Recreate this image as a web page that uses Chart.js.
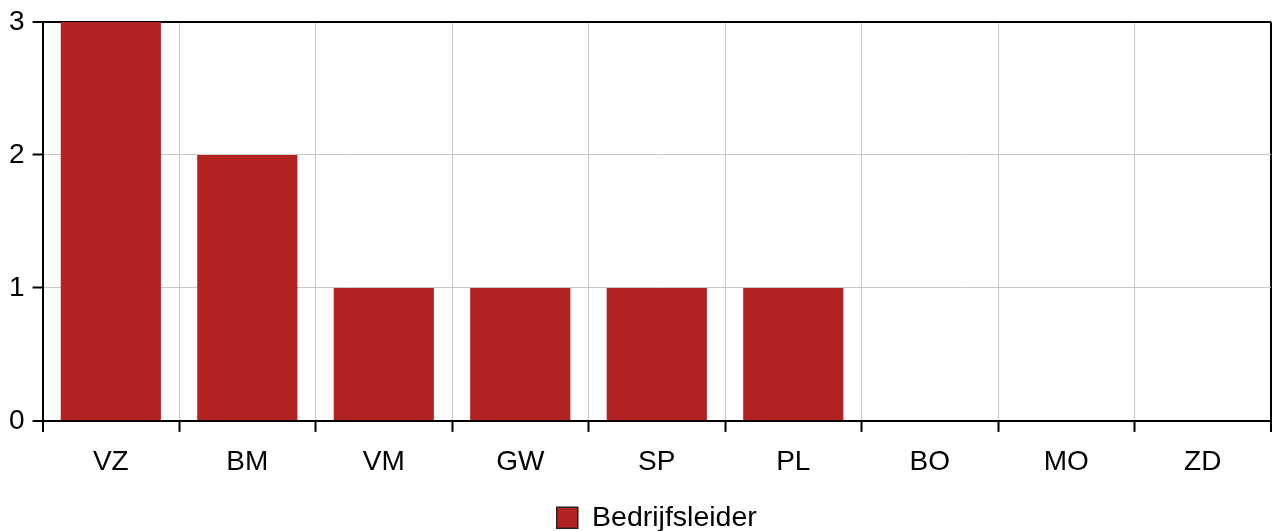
<!DOCTYPE html>
<html>
<head>
<meta charset="utf-8">
<script src="https://cdn.jsdelivr.net/npm/chart.js@4/dist/chart.umd.min.js"></script>
<style>
html,body{margin:0;padding:0;background:#fff;}
#wrap{width:1279px;height:531px;}
</style>
</head>
<body>
<div id="wrap"><canvas id="c" width="1279" height="531"></canvas></div>
<script>
const categories = ['VZ','BM','VM','GW','SP','PL','BO','MO','ZD'];
const seriesName = 'Bedrijfsleider';
const seriesValues = [3,2,1,1,1,1,0,0,0];
const yTicks = [0,1,2,3];

const BAR = '#b22222';
const FONT = {family:'"Liberation Sans", Arial, sans-serif', size:28};

new Chart(document.getElementById('c'), {
  type:'bar',
  data:{
    labels:categories,
    datasets:[{label:seriesName,data:seriesValues,backgroundColor:BAR,borderWidth:0,
      barPercentage:0.734,categoryPercentage:1}]
  },
  options:{
    responsive:false,
    animation:false,
    devicePixelRatio:1,
    layout:{padding:{left:1,right:8,top:17,bottom:-11}},
    plugins:{
      tooltip:{enabled:false},
      legend:{
        position:'bottom',
        fullSize:false,
        labels:{
          color:'#000',font:{...FONT, size:28.5, lineHeight:1},boxWidth:21,boxHeight:21,padding:2,
          generateLabels(chart){
            const items = Chart.defaults.plugins.legend.labels.generateLabels(chart);
            items.forEach(i=>{i.fillStyle=BAR;i.strokeStyle='#222';i.lineWidth=1.5;});
            return items;
          }
        }
      }
    },
    scales:{
      x:{
        afterFit(scale){scale.height += 8;},
        grid:{
          offset:true,
          color:ctx=> (ctx.type==='scale'||ctx.index===0)?'#000':'#c8c8c8',
          lineWidth:ctx=> (ctx.type==='scale'||ctx.index===0)?2:1,
          tickColor:'#000',tickWidth:2,tickLength:11,drawTicks:true
        },
        border:{color:'#000',width:2},
        ticks:{color:'#000',font:FONT,padding:14,maxRotation:0}
      },
      y:{
        min:0,max:3,
        afterBuildTicks(scale){scale.ticks = yTicks.map(v=>({value:v}));},
        grid:{
          color:ctx=> (ctx.tick && (ctx.tick.value===3||ctx.tick.value===0))?'#000':'#c8c8c8',
          lineWidth:ctx=> (ctx.tick && (ctx.tick.value===3||ctx.tick.value===0))?2:1,
          tickColor:'#000',tickWidth:2,tickLength:10
        },
        border:{color:'#000',width:2},
        ticks:{color:'#000',font:{...FONT, lineHeight:1},padding:8,stepSize:1}
      }
    }
  }
});
</script>
</body>
</html>
